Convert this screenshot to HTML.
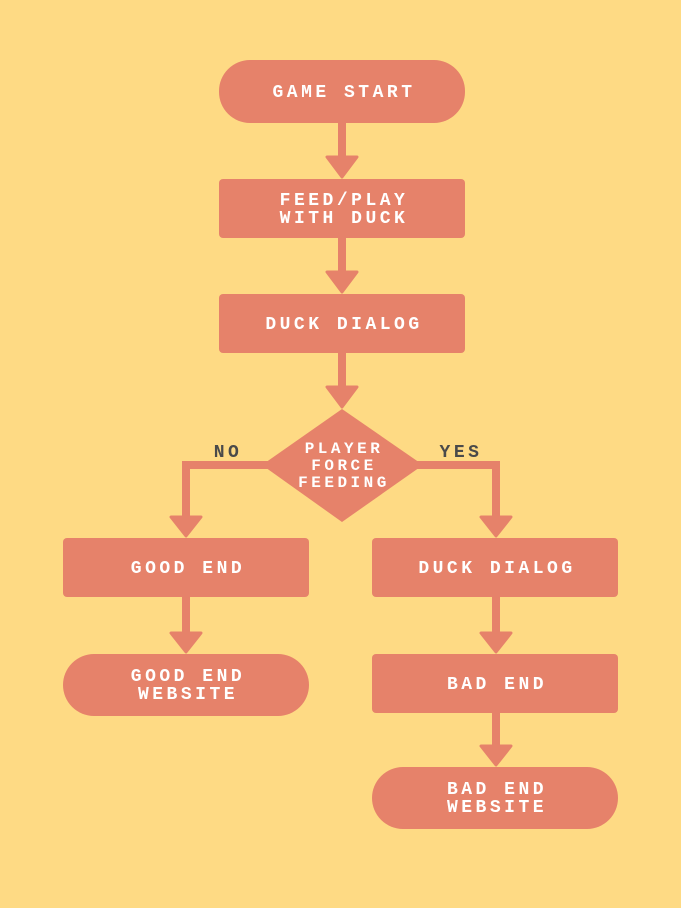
<!DOCTYPE html>
<html><head><style>
html,body{margin:0;padding:0;background:#FEDA84;}
svg{display:block}
text{font-family:"Liberation Mono",monospace;font-weight:bold;font-size:18px;fill:#fff;text-anchor:middle;letter-spacing:3.5px}
.l{fill:#4a4a4a}
.d{font-size:16px;letter-spacing:3.5px}
</style></head><body>
<svg width="681" height="908" viewBox="0 0 681 908">
<rect width="681" height="908" fill="#FEDA84"/>
<g fill="#E6826A" stroke="none">
<rect x="219" y="60" width="246" height="63" rx="31"/>
<rect x="219" y="179" width="246" height="59" rx="4"/>
<rect x="219" y="294" width="246" height="59" rx="4"/>
<polygon points="342,409 423,465 342,522 262,465"/>
<rect x="63" y="538" width="246" height="59" rx="4"/>
<rect x="372" y="538" width="246" height="59" rx="4"/>
<rect x="63" y="654" width="246" height="62" rx="31"/>
<rect x="372" y="654" width="246" height="59" rx="4"/>
<rect x="372" y="767" width="246" height="62" rx="31"/>
<rect x="338" y="123" width="8" height="40"/>
<rect x="338" y="238" width="8" height="40"/>
<rect x="338" y="353" width="8" height="40"/>
<rect x="182" y="461" width="90" height="8"/>
<rect x="182" y="461" width="8" height="62"/>
<rect x="412" y="461" width="88" height="8"/>
<rect x="492" y="461" width="8" height="62"/>
<rect x="182" y="597" width="8" height="42"/>
<rect x="492" y="597" width="8" height="42"/>
<rect x="492" y="713" width="8" height="39"/>
</g>
<g fill="#E6826A" stroke="#E6826A" stroke-width="3" stroke-linejoin="round">
<polygon points="327,157 357,157 342,177"/>
<polygon points="327,272 357,272 342,292"/>
<polygon points="327,387 357,387 342,407"/>
<polygon points="171,517 201,517 186,536"/>
<polygon points="481,517 511,517 496,536"/>
<polygon points="171,633 201,633 186,652"/>
<polygon points="481,633 511,633 496,652"/>
<polygon points="481,746 511,746 496,765"/>
</g>
<g transform="translate(2,0)">
<text x="342" y="97">GAME START</text>
<text x="342" y="205">FEED/PLAY</text>
<text x="342" y="223">WITH DUCK</text>
<text x="342" y="329">DUCK DIALOG</text>
<text class="d" x="342" y="453">PLAYER</text>
<text class="d" x="342" y="470">FORCE</text>
<text class="d" x="342" y="487">FEEDING</text>
<text class="l" x="226" y="457">NO</text>
<text class="l" x="459" y="457">YES</text>
<text x="186" y="573">GOOD END</text>
<text x="495" y="573">DUCK DIALOG</text>
<text x="186" y="681">GOOD END</text>
<text x="186" y="699">WEBSITE</text>
<text x="495" y="689">BAD END</text>
<text x="495" y="794">BAD END</text>
<text x="495" y="812">WEBSITE</text>
</g>
</svg>
</body></html>
